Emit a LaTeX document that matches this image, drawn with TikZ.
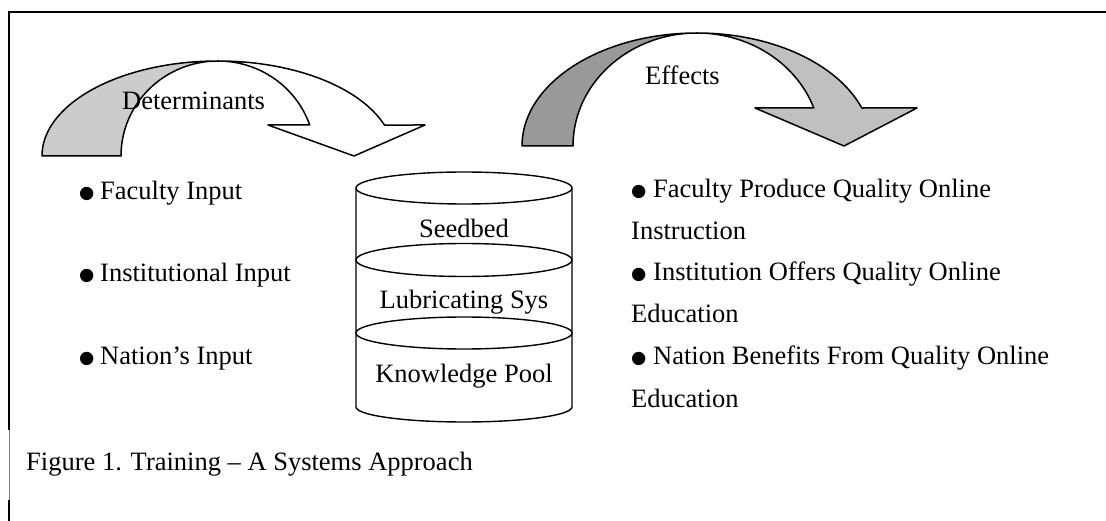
\documentclass[tikz,border=0pt]{standalone}
\usepackage{fontspec}
\setmainfont{Liberation Serif}
\newfontfamily\dvfont{DejaVu Sans}
\newcommand\blt{\raisebox{1.5pt}{\dvfont\fontsize{17.5}{17.5}\selectfont ●}}
\definecolor{backgrayL}{HTML}{CCCCCC}
\definecolor{backgrayR}{HTML}{999999}
\definecolor{frontgrayR}{HTML}{C0C0C0}
\begin{document}
\begin{tikzpicture}[x=1pt,y=1pt,
  txt/.style={inner sep=0pt, anchor=base west, font=\fontsize{26.5}{32}\selectfont},
  ctxt/.style={inner sep=0pt, anchor=base, font=\fontsize{26.5}{32}\selectfont},
  band/.style={line width=1.5pt, line join=round},
  cyl/.style={line width=1.4pt}]
\useasboundingbox (0,0) rectangle (1106,520);
\fill[white] (0,0) rectangle (1106,520);

% frame
\draw[line width=2pt] (8.2,508) -- (1110,508);
\draw[line width=1.5pt] (9,509) -- (9,90);
\draw[line width=1pt, gray] (9,90) -- (9,20);
\draw[line width=1.5pt] (9,20) -- (9,-2);

% left curved arrow (Determinants)
\filldraw[band, fill=backgrayL] (42,364) arc[start angle=180, end angle=90, x radius=176, y radius=95]
  arc[start angle=90, end angle=180, x radius=97, y radius=95] -- cycle;
\filldraw[band, fill=white] (218,459) arc[start angle=90, end angle=19.04, x radius=176, y radius=95]
  -- (425,395) -- (354,364) -- (268,395) -- (309.7,395)
  arc[start angle=19.04, end angle=90, x radius=97, y radius=95] -- cycle;

% right curved arrow (Effects)
\filldraw[band, fill=backgrayR] (522,374) arc[start angle=180, end angle=90, x radius=175, y radius=113]
  arc[start angle=90, end angle=180, x radius=124, y radius=113] -- cycle;
\filldraw[band, fill=frontgrayR] (697,487) arc[start angle=90, end angle=19.65, x radius=175, y radius=113]
  -- (917,412) -- (844,374) -- (755,412) -- (813.8,412)
  arc[start angle=19.65, end angle=90, x radius=124, y radius=113] -- cycle;

% cylinder
\draw[cyl] (464,332) ellipse[x radius=108, y radius=16];
\draw[cyl] (356,332) -- (356,113) arc[start angle=180, end angle=360, x radius=108, y radius=15] -- (572,332);
\draw[cyl] (464,260) ellipse[x radius=108, y radius=16.5];
\draw[cyl] (464,187) ellipse[x radius=108, y radius=16];

% labels
\node[txt] (det) at (122,410) {Determinants};
\node[txt] (eff) at (645,435) {Effects};

\node[txt] (in1) at (79,320) {\makebox[21pt][l]{\blt}Faculty Input};
\node[txt] (in2) at (79,238) {\makebox[21pt][l]{\blt}Institutional Input};
\node[txt] (in3) at (79,155) {\makebox[21pt][l]{\blt}Nation’s Input};

\node[ctxt] (seed) at (464,282) {Seedbed};
\node[ctxt] (lub) at (464,211) {Lubricating Sys};
\node[ctxt] (kp) at (464,138) {Knowledge Pool};

\node[txt] (out1) at (631,322) {\makebox[22pt][l]{\blt}Faculty Produce Quality Online};
\node[txt] (out1b) at (631,280) {Instruction};
\node[txt] (out2) at (631,239) {\makebox[22pt][l]{\blt}Institution Offers Quality Online};
\node[txt] (out2b) at (631,197) {Education};
\node[txt] (out3) at (631,155) {\makebox[22pt][l]{\blt}Nation Benefits From Quality Online};
\node[txt] (out3b) at (631,113) {Education};

\node[txt] (cap) at (26,50) {Figure 1. Training – A Systems Approach};
\end{tikzpicture}
\end{document}
